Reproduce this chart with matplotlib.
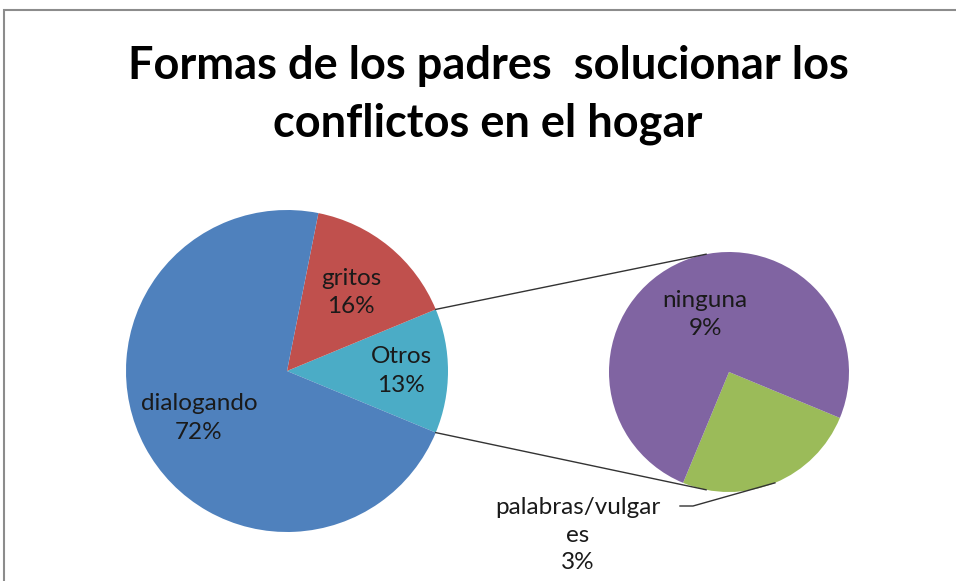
import numpy as np
import matplotlib.pyplot as plt

# data
main_labels = ["Otros", "gritos", "dialogando"]
main_counts = [4, 5, 23]
sub_labels = ["palabras/vulgar\nes", "ninguna"]
sub_counts = [1, 3]

main_colors = ["#4BACC6", "#C0504D", "#4F81BD"]
sub_colors = ["#9BBB59", "#8064A2"]

total = sum(main_counts)


def pct(v):
    return "%d%%" % int(100.0 * v / total + 0.5)


plt.rcParams['font.family'] = ['Lato', 'DejaVu Sans']

fig = plt.figure(figsize=(9.56, 5.81), dpi=100)
ax = fig.add_axes([0, 0, 1, 1])

H = 581
c1 = (287, H - 371)
r1 = 161
c2 = (729, H - 372)
r2 = 120

start1 = -360.0 * main_counts[0] / total / 2
w1, _ = ax.pie(main_counts, colors=main_colors, startangle=start1,
               center=c1, radius=r1, wedgeprops=dict(linewidth=0))
w2, _ = ax.pie(sub_counts, colors=sub_colors, startangle=-112.5,
               center=c2, radius=r2, wedgeprops=dict(linewidth=0))

ax.set_xlim(0, 956)
ax.set_ylim(0, H)
ax.set_aspect('equal')
ax.axis('off')


def mid_point(w, c, r, frac):
    a = np.deg2rad((w.theta1 + w.theta2) / 2)
    return c[0] + frac * r * np.cos(a), c[1] + frac * r * np.sin(a)


fracs = [0.71, 0.63, 0.62]
for w, lab, v, f in zip(w1, main_labels, main_counts, fracs):
    x, y = mid_point(w, c1, r1, f)
    ax.text(x, y, lab + "\n" + pct(v), ha="center", va="center",
            fontsize=17.5, color="#1a1a1a", linespacing=1.45)

# ninguna inside
x, y = mid_point(w2[1], c2, r2, 0.52)
ax.text(x, y, sub_labels[1] + "\n" + pct(sub_counts[1]), ha="center",
        va="center", fontsize=17.5, color="#1a1a1a", linespacing=1.45)

# palabras outside with leader line
px, py = mid_point(w2[0], c2, r2, 1.0)
ax.plot([px, 693, 680], [py, H - 506, H - 506], color="#333333", lw=1)
ax.text(578, H - 535, sub_labels[0] + "\n" + pct(sub_counts[0]), ha="center",
        va="center", fontsize=17.5, color="#1a1a1a", linespacing=1.38)

# connector lines between the pies
for th, a2 in [(w1[0].theta2, 101), (w1[0].theta1, -101)]:
    a = np.deg2rad(th)
    x0, y0 = c1[0] + r1 * np.cos(a), c1[1] + r1 * np.sin(a)
    b = np.deg2rad(a2)
    x1, y1 = c2[0] + r2 * np.cos(b), c2[1] + r2 * np.sin(b)
    ax.plot([x0, x1], [y0, y1], color="#333333", lw=1)

ax.text(488, H - 95, "Formas de los padres  solucionar los\nconflictos en el hogar",
        ha="center", va="center", fontsize=32.5, fontweight="bold",
        color="black", linespacing=1.45)

# chart border
ax.plot([4, 4, 956], [0, H - 10, H - 10], color="#8c8c8c", lw=1.5,
        solid_joinstyle="miter", clip_on=False)

fig.savefig("out.png", dpi=100)
